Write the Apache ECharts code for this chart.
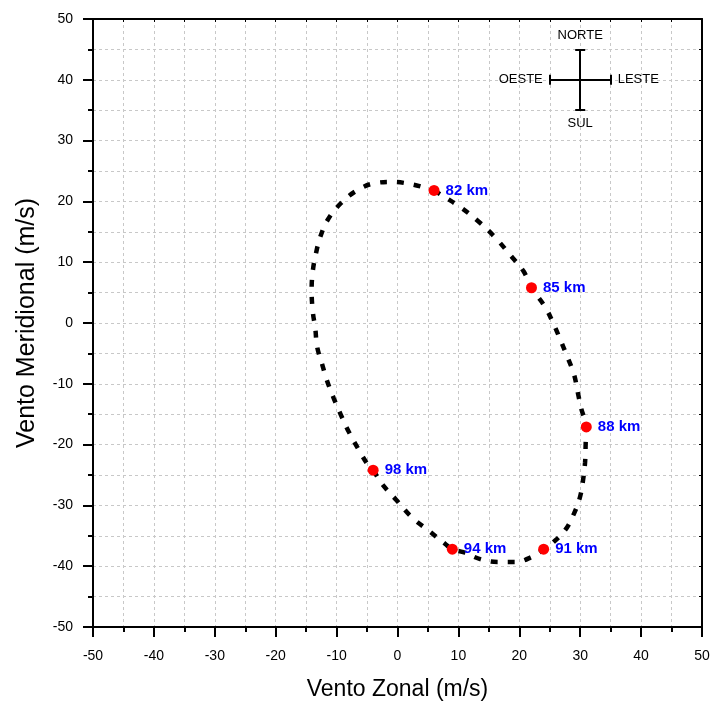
<!DOCTYPE html>
<html>
<head>
<meta charset="utf-8">
<script src="https://cdn.jsdelivr.net/npm/echarts@6/dist/echarts.min.js"></script>
<style>html,body{margin:0;padding:0;background:#fff}#c{width:711px;height:701px}</style>
</head>
<body>
<div id="c"></div>
<script>
// Labeled altitude points
const altitudes = ['82 km', '85 km', '88 km', '91 km', '94 km', '98 km'];
const pointU = [6, 22, 31, 24, 9, -4];
const pointV = [21.8, 5.8, -17.1, -37.2, -37.2, -24.2];

// Hodograph curve (traced)
const curveU = [6.0, 7.6, 10.4, 13.3, 16.0, 18.5, 20.7, 22.0, 24.2, 25.6, 26.8, 27.9, 29.0, 29.6, 30.2, 31.0, 30.9, 30.8, 30.5, 30.0, 29.0, 27.5, 25.3, 24.1, 22.0, 19.4, 16.6, 13.8, 10.8, 9.0, 7.8, 5.3, 2.3, -0.2, -2.6, -4.0, -4.8, -6.4, -8.0, -9.3, -10.5, -11.6, -12.4, -13.2, -13.5, -13.9, -14.1, -13.9, -13.4, -12.7, -11.5, -9.3, -6.5, -3.7, -0.9, 1.9, 4.7, 6.0];
const curveV = [21.8, 20.8, 19.0, 16.7, 14.1, 11.2, 8.5, 5.8, 2.7, -0.1, -2.9, -5.6, -8.5, -11.4, -14.2, -17.1, -19.8, -22.9, -25.6, -28.5, -31.3, -34.1, -36.3, -37.2, -38.5, -39.3, -39.3, -38.9, -37.7, -37.2, -36.3, -34.3, -31.9, -29.1, -26.4, -24.2, -23.4, -20.8, -17.9, -15.1, -12.3, -9.4, -6.7, -3.9, -0.9, 1.8, 5.4, 8.6, 11.4, 14.1, 16.9, 19.7, 21.9, 23.0, 23.2, 22.9, 22.2, 21.8];

// Compass rose
const compassCenter = [30, 40];
const compassHalf = 5;
const capHalf = 0.82;
const compassNames = ['NORTE', 'SUL', 'OESTE', 'LESTE'];

// Axis ticks
const axisMin = -50, axisMax = 50, axisStep = 10;

const FONT = '"Liberation Sans", Arial, sans-serif';
const cx = compassCenter[0], cy = compassCenter[1], h = compassHalf;
const compassSegs = [
  [[cx - h, cy], [cx + h, cy]],
  [[cx, cy - h], [cx, cy + h]],
  [[cx - h, cy - capHalf], [cx - h, cy + capHalf]],
  [[cx + h, cy - capHalf], [cx + h, cy + capHalf]],
  [[cx - capHalf, cy + h], [cx + capHalf, cy + h]],
  [[cx - capHalf, cy - h], [cx + capHalf, cy - h]]
];
const compassLabelPts = [
  { name: compassNames[0], value: [cx, cy + h], pos: 'top' },
  { name: compassNames[1], value: [cx, cy - h], pos: 'bottom' },
  { name: compassNames[2], value: [cx - h, cy], pos: 'left' },
  { name: compassNames[3], value: [cx + h, cy], pos: 'right' }
];

const gridStyle = { color: '#c8c8c8', width: 1, type: [3, 3] };
const mainAxis = (isX) => ({
  type: 'value', min: axisMin, max: axisMax, interval: axisStep,
  position: isX ? 'bottom' : 'left',
  name: isX ? 'Vento Zonal (m/s)' : 'Vento Meridional (m/s)',
  nameLocation: 'middle',
  nameGap: isX ? 51 : 53,
  nameTextStyle: { fontFamily: FONT, fontSize: isX ? 23 : 25, color: '#000' },
  axisLine: { show: true, onZero: false, lineStyle: { color: '#000', width: 2 } },
  axisTick: { show: true, inside: false, length: 10, lineStyle: { color: '#000', width: 2 } },
  minorTick: { show: true, splitNumber: 2, length: 5, lineStyle: { color: '#000', width: 2 } },
  axisLabel: { fontFamily: FONT, fontSize: 14, color: '#000', margin: isX ? 22 : 20 },
  splitLine: { show: true, lineStyle: gridStyle },
  minorSplitLine: { show: true, lineStyle: gridStyle }
});
const frameAxis = (isX) => ({
  type: 'value', min: axisMin, max: axisMax, interval: axisStep / 2,
  position: isX ? 'top' : 'right',
  axisLine: { show: true, onZero: false, lineStyle: { color: '#000', width: 2 } },
  axisTick: { show: true, inside: true, length: 3, lineStyle: { color: '#000', width: 1 } },
  axisLabel: { show: false },
  splitLine: { show: false }
});

const chart = echarts.init(document.getElementById('c'));
chart.setOption({
  animation: false,
  backgroundColor: '#fff',
  grid: { left: 93, top: 19, right: 9, bottom: 74, containLabel: false, outerBoundsMode: 'none' },
  xAxis: [mainAxis(true), frameAxis(true)],
  yAxis: [mainAxis(false), frameAxis(false)],
  series: [
    {
      type: 'line', xAxisIndex: 0, yAxisIndex: 0,
      data: curveU.map((u, i) => [u, curveV[i]]),
      smooth: 0.4, showSymbol: false, symbol: 'none',
      lineStyle: { color: '#000', width: 4.5, type: [7, 10], cap: 'butt' },
      z: 2
    },
    {
      type: 'scatter', xAxisIndex: 0, yAxisIndex: 0,
      data: altitudes.map((n, i) => ({ name: n, value: [pointU[i], pointV[i]] })),
      symbolSize: 11,
      itemStyle: { color: '#ff0000', opacity: 1 },
      label: {
        show: true, position: 'right', distance: 6, formatter: '{b}',
        fontFamily: FONT, fontSize: 15, fontWeight: 'bold', color: '#0000ff'
      },
      z: 3
    },
    {
      type: 'lines', coordinateSystem: 'cartesian2d', xAxisIndex: 0, yAxisIndex: 0,
      data: compassSegs.map(s => ({ coords: s })),
      lineStyle: { color: '#000', width: 2, opacity: 1 },
      symbol: 'none', z: 3
    },
    {
      type: 'scatter', xAxisIndex: 0, yAxisIndex: 0,
      data: compassLabelPts.map(p => ({
        name: p.name, value: p.value,
        label: { position: p.pos }
      })),
      symbolSize: 0,
      itemStyle: { opacity: 1 },
      label: {
        show: true, formatter: '{b}', distance: 7,
        fontFamily: FONT, fontSize: 13, color: '#000'
      },
      z: 3
    }
  ]
});
</script>
</body>
</html>
